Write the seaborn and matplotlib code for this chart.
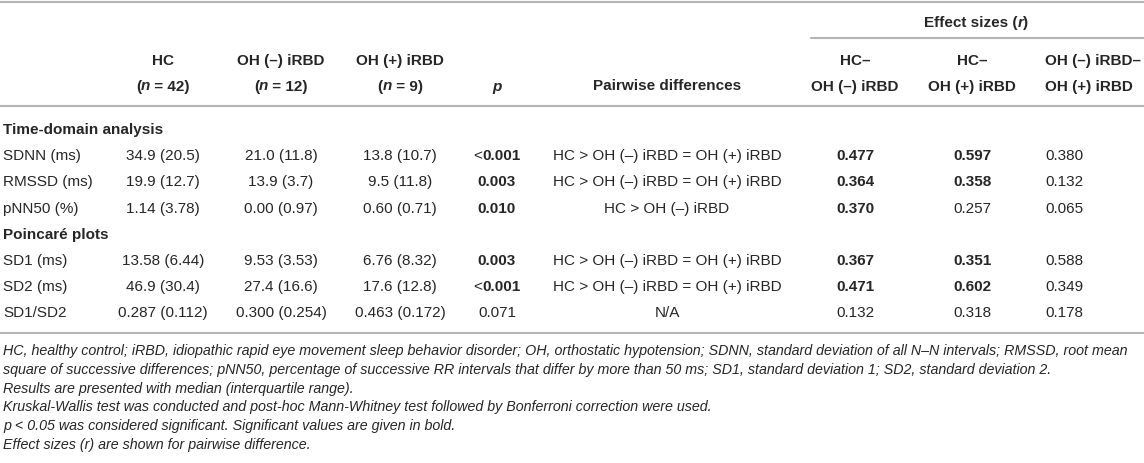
import matplotlib
matplotlib.use("Agg")
import matplotlib.pyplot as plt
import seaborn as sns

# table contents
sections = ["Time-domain analysis", "Poincaré plots"]
variables = ["SDNN (ms)", "RMSSD (ms)", "pNN50 (%)", "SD1 (ms)", "SD2 (ms)", "SD1/SD2"]
section_of = [0, 0, 0, 1, 1, 1]
hc = ["34.9 (20.5)", "19.9 (12.7)", "1.14 (3.78)", "13.58 (6.44)", "46.9 (30.4)", "0.287 (0.112)"]
oh_neg = ["21.0 (11.8)", "13.9 (3.7)", "0.00 (0.97)", "9.53 (3.53)", "27.4 (16.6)", "0.300 (0.254)"]
oh_pos = ["13.8 (10.7)", "9.5 (11.8)", "0.60 (0.71)", "6.76 (8.32)", "17.6 (12.8)", "0.463 (0.172)"]
p_values = ["<0.001", "0.003", "0.010", "0.003", "<0.001", "0.071"]
p_bold = [True, True, True, True, True, False]
pairwise = ["HC > OH (–) iRBD = OH (+) iRBD", "HC > OH (–) iRBD = OH (+) iRBD",
            "HC > OH (–) iRBD", "HC > OH (–) iRBD = OH (+) iRBD",
            "HC > OH (–) iRBD = OH (+) iRBD", "N/A"]
r_hc_neg = [0.477, 0.364, 0.370, 0.367, 0.471, 0.132]
r_hc_pos = [0.597, 0.358, 0.257, 0.351, 0.602, 0.318]
r_neg_pos = [0.380, 0.132, 0.065, 0.588, 0.349, 0.178]
r_hc_neg_bold = [True, True, True, True, True, False]
r_hc_pos_bold = [True, True, False, True, True, False]
group_names = ["HC", "OH (–) iRBD", "OH (+) iRBD"]
group_n = [42, 12, 9]
footnotes = [
    "HC, healthy control; iRBD, idiopathic rapid eye movement sleep behavior disorder; OH, orthostatic hypotension; "
    "SDNN, standard deviation of all N–N intervals; RMSSD, root mean",
    "square of successive differences; pNN50, percentage of successive RR intervals that differ by more than 50 ms; "
    "SD1, standard deviation 1; SD2, standard deviation 2.",
    "Results are presented with median (interquartile range).",
    "Kruskal-Wallis test was conducted and post-hoc Mann-Whitney test followed by Bonferroni correction were used.",
    "p < 0.05 was considered significant. Significant values are given in bold.",
    "Effect sizes (r) are shown for pairwise difference.",
]

sns.set_theme(style="white")
plt.rcParams["font.family"] = ["Liberation Sans", "DejaVu Sans"]

ink = "#262626"
rule = "#b4b4b4"
fs = 11

fig = plt.figure(figsize=(11.44, 4.64), dpi=100)
ax = fig.add_axes([0, 0, 1, 1])
ax.set_xlim(0, 1144)
ax.set_ylim(464, 0)
ax.axis("off")
renderer = fig.canvas.get_renderer()


def parts_text(x, y, parts, ha="center", size=fs):
    # parts: (text, weight, style); laid out one after another
    items = [ax.text(0, y, s, fontsize=size, fontweight=w, fontstyle=st,
                     color=ink, va="center", ha="left") for s, w, st in parts]
    widths = [t.get_window_extent(renderer).width for t in items]
    x0 = x - sum(widths) / 2 if ha == "center" else x
    for t, w in zip(items, widths):
        t.set_x(x0)
        x0 += w


def cell(x, y, s, bold=False, ha="center", italic=False, size=fs):
    ax.text(x, y, s, fontsize=size, fontweight="bold" if bold else "normal",
            fontstyle="italic" if italic else "normal",
            color=ink, va="center", ha=ha)


col_x = [163, 281, 400]
p_x = 497
pair_x = 667
r_x = [855, 972]
r3_left = 1045
left = 3

# rules
ax.axhline(3, color=rule, lw=1.5)
ax.plot([811, 1144], [39, 39], color=rule, lw=1.5)
ax.axhline(107, color=rule, lw=1.5)
ax.axhline(334, color=rule, lw=1.5)

# header
h1, h2 = 61, 86.5
parts_text(976, 23, [("Effect sizes (", "bold", "normal"), ("r", "bold", "italic"), (")", "bold", "normal")])
for x, name, n in zip(col_x, group_names, group_n):
    cell(x, h1, name, bold=True)
    parts_text(x, h2, [("(", "bold", "normal"), ("n", "bold", "italic"), (f" = {n})", "bold", "normal")])
cell(p_x, h2, "p", bold=True, italic=True)
cell(pair_x, h2, "Pairwise differences", bold=True)
cell(r_x[0], h1, "HC–", bold=True)
cell(r_x[0], h2, "OH (–) iRBD", bold=True)
cell(r_x[1], h1, "HC–", bold=True)
cell(r_x[1], h2, "OH (+) iRBD", bold=True)
cell(r3_left, h1, "OH (–) iRBD–", bold=True, ha="left")
cell(r3_left, h2, "OH (+) iRBD", bold=True, ha="left")

# body
y = 130
step = 26.2
current = None
for i, var in enumerate(variables):
    if section_of[i] != current:
        current = section_of[i]
        cell(left, y, sections[current], bold=True, ha="left")
        y += step
    cell(left, y, var, ha="left")
    cell(col_x[0], y, hc[i])
    cell(col_x[1], y, oh_neg[i])
    cell(col_x[2], y, oh_pos[i])
    pv = p_values[i]
    if pv.startswith("<"):
        parts_text(p_x, y, [("<", "normal", "normal"), (pv[1:], "bold" if p_bold[i] else "normal", "normal")])
    else:
        cell(p_x, y, pv, bold=p_bold[i])
    cell(pair_x, y, pairwise[i])
    cell(r_x[0], y, f"{r_hc_neg[i]:.3f}", bold=r_hc_neg_bold[i])
    cell(r_x[1], y, f"{r_hc_pos[i]:.3f}", bold=r_hc_pos_bold[i])
    cell(r3_left, y, f"{r_neg_pos[i]:.3f}", ha="left")
    y += step

# footnotes
for k, line in enumerate(footnotes):
    cell(left, 351 + k * 18.8, line, ha="left", italic=True, size=10.3)

fig.savefig("out.png", dpi=100)
